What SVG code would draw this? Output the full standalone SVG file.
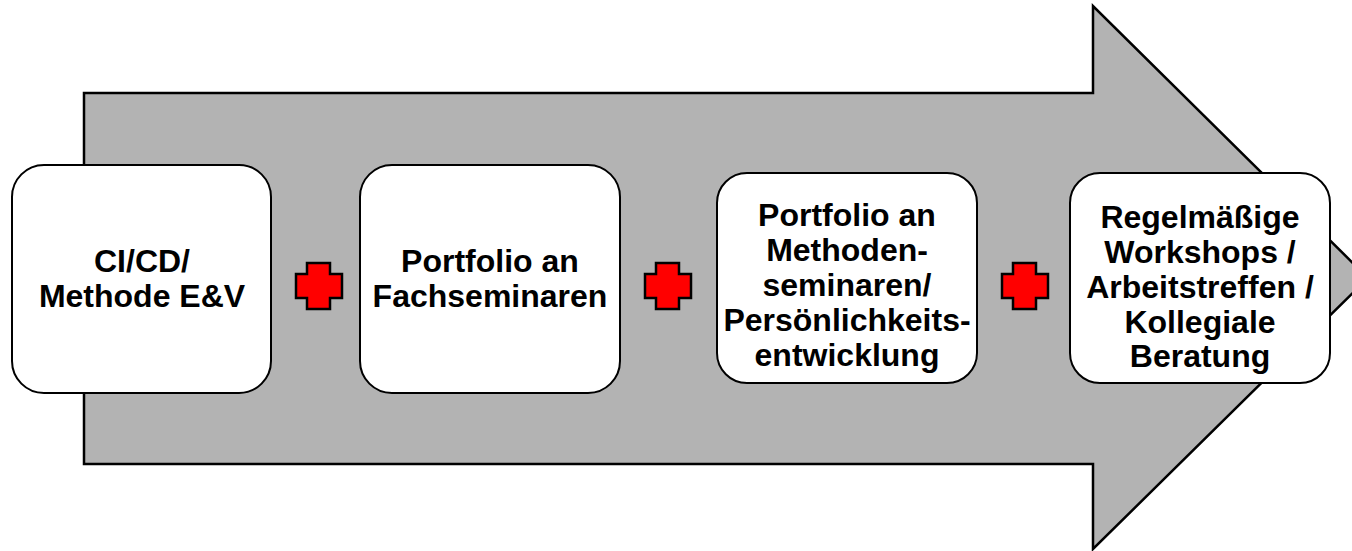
<svg xmlns="http://www.w3.org/2000/svg" width="1352" height="551" viewBox="0 0 1352 551">
<style>
.box{fill:#fff;stroke:#000;stroke-width:2}
.plus{fill:#ff0000;stroke:#000;stroke-width:2.5}
text{font-family:"Liberation Sans",Arial,sans-serif;font-weight:bold;font-size:32px;fill:#000;text-anchor:middle}
</style>
<rect width="1352" height="551" fill="#fff"/>
<g id="arrow">
<polygon points="84,93 1093,93 1093,6 1368,278 1093,549 1093,464 84,464" fill="#b3b3b3" stroke="#000" stroke-width="2.5"/>
</g>
<g id="node1">
<rect class="box" x="12" y="165" width="259" height="228" rx="32"/>
<text x="142" y="272">CI/CD/</text>
<text x="142" y="307">Methode E&amp;V</text>
</g>
<g id="node2">
<rect class="box" x="360" y="165" width="260" height="228" rx="32"/>
<text x="490" y="272">Portfolio an</text>
<text x="490" y="307">Fachseminaren</text>
</g>
<g id="node3">
<rect class="box" x="717" y="173" width="260" height="210" rx="30"/>
<text x="847" y="226">Portfolio an</text>
<text x="847" y="261">Methoden-</text>
<text x="847" y="296">seminaren/</text>
<text x="847" y="331">Persönlichkeits-</text>
<text x="847" y="366">entwicklung</text>
</g>
<g id="node4">
<rect class="box" x="1070" y="173" width="260" height="210" rx="30"/>
<text x="1200" y="228">Regelmäßige</text>
<text x="1200" y="263">Workshops /</text>
<text x="1200" y="298">Arbeitstreffen /</text>
<text x="1200" y="333">Kollegiale</text>
<text x="1200" y="367">Beratung</text>
</g>
<g id="connectors">
<polygon class="plus" points="307,263 330,263 330,274 342,274 342,298 330,298 330,309 307,309 307,298 296,298 296,274 307,274"/>
<polygon class="plus" transform="translate(349,0)" points="307,263 330,263 330,274 342,274 342,298 330,298 330,309 307,309 307,298 296,298 296,274 307,274"/>
<polygon class="plus" transform="translate(706,0)" points="307,263 330,263 330,274 342,274 342,298 330,298 330,309 307,309 307,298 296,298 296,274 307,274"/>
</g>
</svg>
